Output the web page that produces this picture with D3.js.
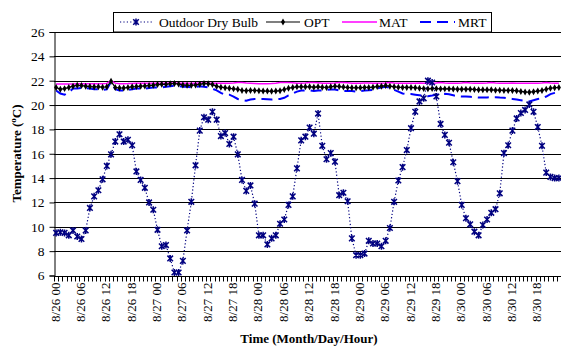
<!DOCTYPE html>
<html>
<head>
<meta charset="utf-8">
<script src="https://cdn.jsdelivr.net/npm/d3@7"></script>
<style>
  body { margin: 0; background: #fff; }
  svg { display: block; font-family: "Liberation Serif", "Times New Roman", serif; }
</style>
</head>
<body>
<div id="chart"></div>
<script>
// hourly categories 8/26 00 .. 8/30 23
const days = ['8/26', '8/27', '8/28', '8/29', '8/30'];
const hours = d3.range(24).map(h => String(h).padStart(2, '0'));
const categories = days.flatMap(d => hours.map(h => d + ' ' + h));
const yTicks = [6, 8, 10, 12, 14, 16, 18, 20, 22, 24, 26];

const outdoorDryBulb = [
  9.5, 9.55, 9.5, 9.3, 9.7, 9.2, 9.0, 9.7, 11.55, 12.5, 13.0, 13.9, 15.0, 15.95, 17.0, 17.6, 17.0, 17.15, 16.7, 14.55, 13.85, 13.2, 12.0, 11.4,
  9.75, 8.4, 8.5, 7.4, 6.25, 6.25, 7.2, 9.7, 12.05, 15.05, 17.9, 19.0, 18.8, 19.45, 18.8, 17.45, 17.7, 16.8, 17.4, 15.95, 13.85, 12.95, 13.4, 11.9,
  9.3, 9.3, 8.55, 9.05, 9.3, 10.25, 10.6, 11.8, 12.5, 14.8, 17.1, 17.4, 18.15, 17.65, 19.3, 16.65, 15.55, 16.05, 15.35, 12.6, 12.8, 12.1, 9.05, 7.67,
  7.67, 7.8, 8.85, 8.63, 8.63, 8.4, 8.85, 9.9, 12.05, 13.8, 14.9, 16.3, 18.1, 19.45, 20.3, 20.55, 22.0, 21.85, 20.7, 18.45, 17.55, 16.9, 15.3, 13.75,
  11.8, 10.7, 10.2, 9.6, 9.3, 10.15, 10.6, 11.15, 11.45, 12.75, 16.05, 16.7, 17.9, 18.9, 19.35, 19.6, 20.05, 19.45, 18.2, 16.65, 14.45, 14.1, 14.0, 14.0
];
const opt = [
  21.45, 21.3, 21.35, 21.45, 21.55, 21.62, 21.6, 21.55, 21.52, 21.5, 21.5, 21.47, 21.5, 21.95, 21.45, 21.4, 21.4, 21.45, 21.5, 21.52, 21.55, 21.57, 21.6, 21.63,
  21.68, 21.7, 21.7, 21.75, 21.77, 21.72, 21.65, 21.62, 21.62, 21.65, 21.7, 21.77, 21.75, 21.68, 21.55, 21.47, 21.42, 21.38, 21.33, 21.3, 21.2, 21.18, 21.2, 21.2,
  21.18, 21.15, 21.15, 21.13, 21.15, 21.18, 21.28, 21.38, 21.45, 21.5, 21.5, 21.5, 21.5, 21.47, 21.5, 21.47, 21.45, 21.5, 21.55, 21.52, 21.48, 21.45, 21.42, 21.42,
  21.43, 21.45, 21.45, 21.47, 21.52, 21.55, 21.6, 21.55, 21.5, 21.47, 21.45, 21.45, 21.45, 21.42, 21.38, 21.35, 21.33, 21.35, 21.35, 21.33, 21.33, 21.33, 21.32, 21.3,
  21.3, 21.3, 21.3, 21.28, 21.25, 21.25, 21.25, 21.25, 21.22, 21.22, 21.2, 21.2, 21.2, 21.17, 21.12, 21.08, 21.05, 21.1, 21.15, 21.2, 21.3, 21.38, 21.42, 21.45
];
const mat = [
  21.72, 21.72, 21.72, 21.72, 21.73, 21.74, 21.75, 21.75, 21.75, 21.75, 21.75, 21.75, 21.78, 22.0, 21.8, 21.75, 21.75, 21.76, 21.78, 21.8, 21.8, 21.8, 21.8, 21.8,
  21.8, 21.8, 21.8, 21.82, 21.82, 21.8, 21.8, 21.8, 21.8, 21.8, 21.82, 21.82, 21.8, 21.8, 21.8, 21.8, 21.8, 21.8, 21.82, 21.85, 21.85, 21.82, 21.8, 21.78,
  21.75, 21.75, 21.75, 21.77, 21.8, 21.85, 21.85, 21.85, 21.83, 21.8, 21.8, 21.82, 21.85, 21.85, 21.83, 21.8, 21.8, 21.8, 21.82, 21.85, 21.85, 21.83, 21.8, 21.8,
  21.8, 21.82, 21.82, 21.8, 21.8, 21.8, 21.82, 21.85, 21.82, 21.8, 21.8, 21.8, 21.8, 21.8, 21.82, 21.8, 21.8, 21.8, 21.82, 21.85, 21.82, 21.8, 21.8, 21.8,
  21.82, 21.85, 21.82, 21.8, 21.8, 21.8, 21.82, 21.85, 21.82, 21.8, 21.8, 21.8, 21.82, 21.8, 21.8, 21.8, 21.8, 21.8, 21.8, 21.82, 21.85, 21.82, 21.8, 21.8
];
const mrt = [
  21.2, 20.95, 20.85, 21.05, 21.35, 21.35, 21.4, 21.4, 21.35, 21.3, 21.3, 21.25, 21.3, 21.9, 21.3, 21.2, 21.2, 21.25, 21.3, 21.35, 21.35, 21.35, 21.4, 21.45,
  21.45, 21.45, 21.5, 21.55, 21.6, 21.55, 21.5, 21.5, 21.45, 21.5, 21.55, 21.5, 21.45, 21.35, 21.2, 21.0, 20.85, 20.85, 20.7, 20.5, 20.4, 20.35, 20.45, 20.5,
  20.5, 20.5, 20.48, 20.45, 20.48, 20.5, 20.6, 20.8, 20.95, 21.1, 21.2, 21.2, 21.2, 21.15, 21.2, 21.2, 21.25, 21.28, 21.28, 21.2, 21.15, 21.15, 21.15, 21.1,
  21.15, 21.2, 21.22, 21.25, 21.35, 21.45, 21.5, 21.4, 21.25, 21.1, 20.95, 20.9, 20.9, 20.85, 20.8, 20.75, 20.72, 20.78, 20.85, 20.9, 20.92, 20.88, 20.8, 20.72,
  20.7, 20.7, 20.68, 20.65, 20.62, 20.62, 20.62, 20.65, 20.65, 20.62, 20.6, 20.55, 20.5, 20.45, 20.4, 20.35, 20.3, 20.4, 20.5, 20.55, 20.7, 20.9, 21.0, 21.1
];

const width = 561, height = 347;
const margin = { top: 32, right: 0, bottom: 72, left: 54 };

const svg = d3.select('#chart').append('svg')
  .attr('width', width)
  .attr('height', height);

const x = d3.scaleBand()
  .domain(categories)
  .range([margin.left, width - margin.right])
  .padding(0);
const y = d3.scaleLinear()
  .domain([6, 26])
  .range([height - margin.bottom + 0.5, margin.top]);
const cx = d => x(d) + x.bandwidth() / 2;

// gridlines
svg.append('g')
  .selectAll('line')
  .data(yTicks)
  .join('line')
  .attr('x1', margin.left)
  .attr('x2', width)
  .attr('y1', d => Math.round(y(d)) + 0.5)
  .attr('y2', d => Math.round(y(d)) + 0.5)
  .attr('stroke', '#000')
  .attr('stroke-width', 1);

// y axis
const yAxis = svg.append('g')
  .attr('transform', `translate(${margin.left + 0.5},0)`)
  .call(d3.axisLeft(y).tickValues(yTicks).tickSize(5).tickPadding(5));
yAxis.select('.domain').attr('stroke', '#000');
yAxis.selectAll('.tick line').attr('stroke', '#000');
yAxis.selectAll('.tick text')
  .attr('font-family', 'Liberation Serif')
  .attr('font-size', 13.5)
  .attr('fill', '#000');

// x axis: hourly tick marks between categories
const xBase = Math.round(y(6)) + 0.5;
svg.append('line')
  .attr('x1', margin.left).attr('x2', width)
  .attr('y1', xBase).attr('y2', xBase)
  .attr('stroke', '#000');
svg.append('g')
  .selectAll('line')
  .data(categories.concat(['end']))
  .join('line')
  .attr('x1', (d, i) => Math.round(i < categories.length ? x(d) : x.range()[1]) + 0.5)
  .attr('x2', (d, i) => Math.round(i < categories.length ? x(d) : x.range()[1]) + 0.5)
  .attr('y1', xBase)
  .attr('y2', xBase + 5)
  .attr('stroke', '#000');

const xAxis = svg.append('g')
  .attr('transform', `translate(0,${xBase})`)
  .call(d3.axisBottom(x)
    .tickValues(categories.filter((d, i) => i % 6 === 0))
    .tickSize(0));
xAxis.select('.domain').remove();
xAxis.selectAll('.tick text')
  .attr('font-family', 'Liberation Serif')
  .attr('font-size', 13)
  .attr('fill', '#000')
  .attr('text-anchor', 'end')
  .attr('dy', '0.35em')
  .attr('transform', 'translate(-1,6) rotate(-90)')
  .attr('x', 0)
  .attr('y', 0);

// series
const line = d3.line().x((d, i) => cx(categories[i])).y(d => y(d));

svg.append('path')
  .datum(mat)
  .attr('d', line)
  .attr('fill', 'none')
  .attr('stroke', '#ff00ff')
  .attr('stroke-width', 1.5);

svg.append('path')
  .datum(mrt)
  .attr('d', line)
  .attr('fill', 'none')
  .attr('stroke', '#0000ff')
  .attr('stroke-width', 2)
  .attr('stroke-dasharray', '11,6');

svg.append('path')
  .datum(opt)
  .attr('d', line)
  .attr('fill', 'none')
  .attr('stroke', '#000')
  .attr('stroke-width', 1.2);
svg.append('g')
  .selectAll('path')
  .data(opt)
  .join('path')
  .attr('transform', (d, i) => `translate(${cx(categories[i])},${y(d)})`)
  .attr('d', d3.symbol(d3.symbolDiamond, 14))
  .attr('fill', '#000');

const star = 'M-2.8,-2.8L2.8,2.8M-2.8,2.8L2.8,-2.8M0,-3.5L0,3.5';
svg.append('path')
  .datum(outdoorDryBulb)
  .attr('d', line)
  .attr('fill', 'none')
  .attr('stroke', '#000080')
  .attr('stroke-width', 1.2)
  .attr('stroke-dasharray', '1.2,2.2');
svg.append('g')
  .selectAll('path')
  .data(outdoorDryBulb)
  .join('path')
  .attr('transform', (d, i) => `translate(${cx(categories[i])},${y(d)})`)
  .attr('d', star)
  .attr('fill', 'none')
  .attr('stroke', '#000080')
  .attr('stroke-width', 1.5);

// legend
const legend = svg.append('g');
legend.append('rect')
  .attr('x', 113.5).attr('y', 12.5)
  .attr('width', 378).attr('height', 19.5)
  .attr('fill', '#fff')
  .attr('stroke', '#000');
const ly = 22;
const items = [
  { name: 'Outdoor Dry Bulb', x1: 120, x2: 152, tx: 159 },
  { name: 'OPT', x1: 266, x2: 300, tx: 304 },
  { name: 'MAT', x1: 342, x2: 377, tx: 379 },
  { name: 'MRT', x1: 420, x2: 455, tx: 458 }
];
legend.append('line').attr('x1', items[0].x1).attr('x2', items[0].x2).attr('y1', ly).attr('y2', ly)
  .attr('stroke', '#000080').attr('stroke-width', 1.2).attr('stroke-dasharray', '1.2,2.2');
legend.append('path').attr('transform', `translate(${(items[0].x1 + items[0].x2) / 2},${ly})`)
  .attr('d', star).attr('fill', 'none').attr('stroke', '#000080').attr('stroke-width', 1.5);
legend.append('line').attr('x1', items[1].x1).attr('x2', items[1].x2).attr('y1', ly).attr('y2', ly)
  .attr('stroke', '#000').attr('stroke-width', 1.2);
legend.append('path').attr('transform', `translate(${(items[1].x1 + items[1].x2) / 2},${ly})`)
  .attr('d', d3.symbol(d3.symbolDiamond, 14)).attr('fill', '#000');
legend.append('line').attr('x1', items[2].x1).attr('x2', items[2].x2).attr('y1', ly).attr('y2', ly)
  .attr('stroke', '#ff00ff').attr('stroke-width', 1.5);
legend.append('line').attr('x1', items[3].x1).attr('x2', items[3].x2).attr('y1', ly).attr('y2', ly)
  .attr('stroke', '#0000ff').attr('stroke-width', 2).attr('stroke-dasharray', '11,6');
legend.selectAll('text')
  .data(items)
  .join('text')
  .attr('x', d => d.tx)
  .attr('y', 26.5)
  .attr('font-size', 13.5)
  .attr('fill', '#000')
  .text(d => d.name);

// axis titles
const yTitle = svg.append('text')
  .attr('transform', `translate(21,${(margin.top + height - margin.bottom) / 2}) rotate(-90)`)
  .attr('text-anchor', 'middle')
  .attr('font-size', 13)
  .attr('font-weight', 'bold')
  .attr('fill', '#000');
yTitle.append('tspan').text('Temperature (');
yTitle.append('tspan').attr('font-size', 9).attr('dy', -5).text('o');
yTitle.append('tspan').attr('dy', 5).text('C)');

svg.append('text')
  .attr('x', 309)
  .attr('y', 343)
  .attr('text-anchor', 'middle')
  .attr('font-size', 13)
  .attr('font-weight', 'bold')
  .attr('fill', '#000')
  .text('Time (Month/Day/Hour)');
</script>
</body>
</html>
